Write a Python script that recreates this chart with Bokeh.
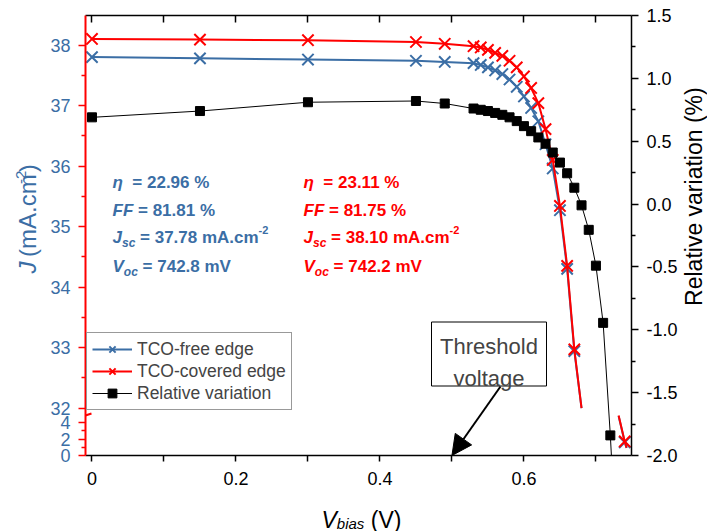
import math
from bokeh.plotting import figure
from bokeh.layouts import row, column
from bokeh.models import (Range1d, LinearAxis, FixedTicker, Label, Arrow, NormalHead,
                          Legend, LegendItem, BoxAnnotation, PrintfTickFormatter)
from bokeh.embed import file_html
from bokeh.resources import INLINE

# ---------------- data ----------------
V_points = [0.00, 0.15, 0.30, 0.45, 0.49, 0.53, 0.54, 0.55, 0.56, 0.57, 0.58, 0.59,
            0.60, 0.61, 0.62, 0.63, 0.64, 0.65, 0.66, 0.67, 0.74]
J_tco_free = [37.80, 37.78, 37.76, 37.74, 37.72, 37.70, 37.67, 37.63, 37.58, 37.52, 37.43, 37.31,
              37.15, 36.96, 36.74, 36.36, 35.96, 35.27, 34.30, 32.94, 1.6]
J_tco_cov = [38.10, 38.09, 38.08, 38.05, 38.02, 37.98, 37.96, 37.92, 37.87, 37.82, 37.74, 37.63,
             37.48, 37.29, 37.04, 36.61, 36.10, 35.34, 34.35, 32.97, 1.7]
# where the drawn J-V curves leave the upper segment and cross the lower one
V_curve_tail = [0.680, float("nan"), 0.7315, 0.740, 0.7425]
J_free_tail = [32.0, float("nan"), 4.8, 1.6, 0.9]
J_cov_tail = [32.0, float("nan"), 4.85, 1.7, 0.95]

V_rel = [0.00, 0.15, 0.30, 0.45, 0.49, 0.53, 0.54, 0.55, 0.56, 0.57, 0.58, 0.59,
         0.60, 0.61, 0.62, 0.63, 0.64, 0.65, 0.66, 0.67, 0.68, 0.69, 0.70, 0.71, 0.72, 0.74]
rel_variation = [0.69, 0.74, 0.81, 0.82, 0.80, 0.76, 0.75, 0.74, 0.725, 0.71, 0.69, 0.66,
                 0.62, 0.58, 0.53, 0.48, 0.41, 0.33, 0.245, 0.13, -0.01, -0.205, -0.49, -0.945, -1.84, -4.0]

upper_ticks = [32, 33, 34, 35, 36, 37, 38]
lower_ticks = [0, 2, 4]
x_ticks = [0.0, 0.2, 0.4, 0.6]
x_minor = [0.1, 0.3, 0.5, 0.7]
rel_ticks = [-2.0, -1.5, -1.0, -0.5, 0.0, 0.5, 1.0, 1.5]

series_names = ["TCO-free edge", "TCO-covered edge", "Relative variation"]
stats_free = ["22.96", "81.81", "37.78", "742.8"]
stats_cov = ["23.11", "81.75", "38.10", "742.2"]

# ---------------- styling ----------------
FONT = "Liberation Sans"
BLUE = "#3b6ea5"
RED = "#ff0000"

TOTAL_W, TOTAL_H = 707, 531
LEFT_W, RIGHT_W, BOTTOM_H = 44, 26, 33
MAIN_W = TOTAL_W - LEFT_W - RIGHT_W
MAIN_H = TOTAL_H - BOTTOM_H
FR_L, FR_R, FR_T, FR_B = 85, 631, 15, 455   # frame edges in page pixels

XMIN, XMAX = -0.009, 0.7494
Y_TOP, Y_BOT = 38.488, 31.215
LOW_K = 0.13636


def disp(j):
    if j == j and j >= 20:
        return j
    return Y_BOT + LOW_K * j


def X(px):
    return XMIN + (px - FR_L) / (FR_R - FR_L) * (XMAX - XMIN)


def Y(py):
    return Y_TOP - (py - FR_T) / (FR_B - FR_T) * (Y_TOP - Y_BOT)


p = figure(width=MAIN_W, height=MAIN_H, output_backend="svg", toolbar_location=None,
           title=None,
           x_range=Range1d(XMIN, XMAX), y_range=Range1d(Y_BOT, Y_TOP),
           min_border_left=FR_L - LEFT_W, min_border_right=LEFT_W + MAIN_W - FR_R,
           min_border_top=FR_T, min_border_bottom=MAIN_H - FR_B)
p.extra_y_ranges = {"rel": Range1d(-2.0, 1.5)}
p.outline_line_color = None
p.xgrid.visible = False
p.ygrid.visible = False

# ---- left axis (broken) ----
ya = p.yaxis[0]
maj = [round(disp(v), 4) for v in lower_ticks] + [float(v) for v in upper_ticks]
labs = [str(v) for v in lower_ticks] + [str(v) for v in upper_ticks]
minor = [round(disp(v), 4) for v in (1, 3)] + [v + 0.5 for v in upper_ticks[:-1]]
ya.ticker = FixedTicker(ticks=maj, minor_ticks=minor)
ya.major_label_overrides = {t: l for t, l in zip(maj, labs)}
ya.axis_line_color = RED
ya.axis_line_width = 2
ya.major_tick_line_color = RED
ya.minor_tick_line_color = RED
ya.major_tick_line_width = 1.5
ya.minor_tick_line_width = 1.5
ya.major_tick_out = 7
ya.major_tick_in = 0
ya.minor_tick_out = 4
ya.minor_tick_in = 0
ya.major_label_text_color = BLUE
ya.major_label_text_font = FONT
ya.major_label_text_font_size = "18px"
ya.major_label_standoff = 8

# ---- bottom axis ----
xa = p.xaxis[0]
xa.ticker = FixedTicker(ticks=x_ticks, minor_ticks=x_minor)
xa.axis_line_width = 1.5
xa.major_tick_line_width = 1.5
xa.minor_tick_line_width = 1.5
xa.major_tick_out = 6
xa.major_tick_in = 0
xa.minor_tick_out = 6
xa.minor_tick_in = 0
xa.major_label_text_font = FONT
xa.major_label_text_font_size = "18px"
xa.major_label_text_color = "black"
xa.major_label_standoff = 10

# ---- top axis (ticks only, no labels) ----
ta = LinearAxis(ticker=FixedTicker(ticks=[], minor_ticks=x_ticks + x_minor),
                major_label_standoff=0, major_tick_out=0, major_tick_in=7,
                minor_tick_out=0, minor_tick_in=7,
                axis_line_width=1.5, major_tick_line_width=1.5, minor_tick_line_width=1.5)
p.add_layout(ta, "above")

# ---- right axis ----
ra = LinearAxis(y_range_name="rel",
                ticker=FixedTicker(ticks=rel_ticks,
                                   minor_ticks=[v + 0.25 for v in rel_ticks[:-1]]),
                formatter=PrintfTickFormatter(format="%.1f"),
                axis_line_width=1.5, major_tick_line_width=1.5, minor_tick_line_width=1.5,
                major_tick_out=7, major_tick_in=0, minor_tick_out=4, minor_tick_in=0,
                major_label_text_font=FONT, major_label_text_font_size="18px",
                major_label_text_color="black", major_label_standoff=8)
p.add_layout(ra, "right")

# ---------------- data renderers ----------------
free_line_v = V_points[:-1] + V_curve_tail
free_line_j = [disp(j) for j in J_tco_free[:-1] + J_free_tail]
cov_line_v = V_points[:-1] + V_curve_tail
cov_line_j = [disp(j) for j in J_tco_cov[:-1] + J_cov_tail]

bl = p.line(free_line_v, free_line_j, line_color=BLUE, line_width=2)
bx = p.scatter(V_points, [disp(j) for j in J_tco_free], marker="x", size=16,
               line_color=BLUE, line_width=2)
rl = p.line(cov_line_v, cov_line_j, line_color=RED, line_width=2)
rx = p.scatter(V_points, [disp(j) for j in J_tco_cov], marker="x", size=16,
               line_color=RED, line_width=2)
kl = p.line(V_rel, rel_variation, y_range_name="rel", line_color="black", line_width=1)
ks = p.scatter(V_rel, rel_variation, y_range_name="rel", marker="square", size=9,
               fill_color="black", line_color="black")

legend = Legend(items=[LegendItem(label=series_names[0], renderers=[bl, bx]),
                       LegendItem(label=series_names[1], renderers=[rl, rx]),
                       LegendItem(label=series_names[2], renderers=[kl, ks])],
                location=(1, FR_B - 410), padding=5, spacing=0, margin=0,
                glyph_width=40, glyph_height=22, label_height=22, label_standoff=5,
                label_text_font=FONT, label_text_font_size="17.5px",
                border_line_color="#333333", border_line_width=1,
                background_fill_color="white", background_fill_alpha=1.0)
p.add_layout(legend)

# ---------------- text helpers ----------------
W_REG = {' ': .278, '(': .333, ')': .333, '%': .889, '-': .333, '.': .278, '=': .584,
         'A': .667, 'V': .667, 'J': .5, 'm': .833, 'c': .5, 'b': .556, 'i': .222,
         'a': .556, 's': .5}
W_BOLD = {' ': .278, '%': .889, '-': .333, '.': .278, '=': .584, 'A': .722, 'F': .611,
          'J': .556, 'V': .667, 'c': .556, 'm': .889, 's': .556, 'o': .611, 'η': .611}


def tw(s, size, table):
    return sum(table.get(ch, .556) for ch in s) * size


def rich(fig, fx, fy, pieces, px, py, color, table, vertical=False):
    """Lay out styled pieces one after another; px/py are page pixels."""
    pos = py if vertical else px
    for text, style, size, shift in pieces:
        lead = len(text) - len(text.lstrip(" "))
        pos += (-1 if vertical else 1) * tw(" " * lead, size, table)
        body = text.lstrip(" ")
        if vertical:
            # centre of the glyph band sits about 0.35 em above the baseline
            x, y, ang, base = fx(px + shift - 0.35 * size), fy(pos), math.pi / 2, "middle"
        else:
            x, y, ang, base = fx(pos), fy(py + shift), 0, "alphabetic"
        fig.add_layout(Label(x=x, y=y, text=body, angle=ang, text_font=FONT,
                             text_font_style=style, text_font_size=f"{size}px",
                             text_color=color, text_align="left", text_baseline=base))
        pos += (-1 if vertical else 1) * tw(body, size, table)


def stats_block(vals, px, color):
    rich(p, X, Y, [("η", "bold italic", 17, 0), ("  = " + vals[0] + " %", "bold", 17, 0)],
         px, 182, color, W_BOLD)
    rich(p, X, Y, [("FF", "bold italic", 17, 0), (" = " + vals[1] + " %", "bold", 17, 0)],
         px, 209.5, color, W_BOLD)
    rich(p, X, Y, [("J", "bold italic", 17, 0), ("sc", "bold italic", 12, 5),
                   (" = " + vals[2] + " mA.cm", "bold", 17, 0), ("-2", "bold", 11, -8)],
         px, 237, color, W_BOLD)
    rich(p, X, Y, [("V", "bold italic", 17, 0), ("oc", "bold italic", 12, 5),
                   (" = " + vals[3] + " mV", "bold", 17, 0)], px, 266, color, W_BOLD)


stats_block(stats_free, 112, BLUE)
stats_block(stats_cov, 303, RED)

# axis break marks (part inside the frame)
for y0 in (411, 418):
    p.add_layout(Arrow(start=None, end=None, x_start=X(76), y_start=Y(y0), x_end=X(91),
                       y_end=Y(y0 - 5), line_color=RED, line_width=2))

# threshold annotation
p.add_layout(BoxAnnotation(left=X(431), right=X(546), top=Y(321.5), bottom=Y(385.5),
                           fill_color="white", fill_alpha=1.0, line_color="black",
                           line_width=1, line_alpha=1.0))
p.add_layout(Label(x=X(488.5), y=Y(346), text="Threshold", text_font=FONT,
                   text_font_size="22px", text_align="center", text_baseline="alphabetic"))
p.add_layout(Label(x=X(488.5), y=Y(378), text="voltage", text_font=FONT,
                   text_font_size="22px", text_align="center", text_baseline="alphabetic"))
p.add_layout(Arrow(end=NormalHead(size=20, fill_color="black", line_color="black"),
                   x_start=X(500), y_start=Y(386), x_end=0.5, y_end=Y_BOT,
                   line_color="black", line_width=2))


# ---------------- title strips (page-pixel coordinates) ----------------
def strip(w, h, x0):
    f = figure(width=w, height=h, output_backend="svg", toolbar_location=None, title=None,
               x_range=Range1d(x0, x0 + w), y_range=Range1d(0, h),
               x_axis_location=None, y_axis_location=None,
               min_border_left=0, min_border_right=0, min_border_top=0, min_border_bottom=0)
    f.outline_line_color = None
    f.grid.visible = False
    return f


left_s = strip(LEFT_W, MAIN_H, 0)
rich(left_s, lambda v: v, lambda v: MAIN_H - v,
     [("J", "italic", 24, 0), (" (mA.cm", "normal", 24, 0), ("-2", "normal", 15, -9),
      (")", "normal", 24, 0)], 35, 292, BLUE, W_REG, vertical=True)

right_s = strip(RIGHT_W, MAIN_H, TOTAL_W - RIGHT_W)
right_s.add_layout(Label(x=693, y=MAIN_H - 205, text="Relative variation (%)",
                         angle=math.pi / 2, text_font=FONT, text_font_size="23px",
                         text_color="black", text_align="center", text_baseline="middle"))

bottom_s = strip(TOTAL_W, BOTTOM_H, 0)
rich(bottom_s, lambda v: v, lambda v: TOTAL_H - v,
     [("V", "italic", 23, 0), ("bias", "italic", 15, 4), (" (V)", "normal", 23, 0)],
     321, 519, "black", W_REG)

layout = column(row(left_s, p, right_s), bottom_s)

open("out.html", "w").write(file_html(layout, INLINE))
